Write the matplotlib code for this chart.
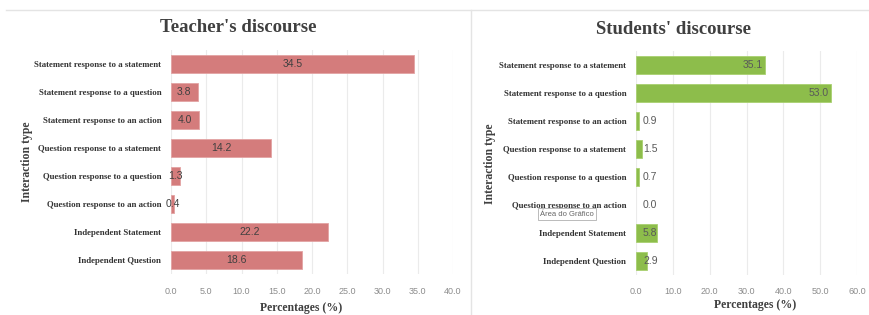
import matplotlib
matplotlib.use("Agg")
import matplotlib.pyplot as plt
from matplotlib.lines import Line2D
from matplotlib.ticker import FormatStrFormatter

CATEGORIES = [
    "Statement response to a statement",
    "Statement response to a question",
    "Statement response to an action",
    "Question response to a statement",
    "Question response to a question",
    "Question response to an action",
    "Independent Statement",
    "Independent Question",
]
TEACHER = [34.5, 3.8, 4.0, 14.2, 1.3, 0.4, 22.2, 18.6]
STUDENTS = [35.1, 53.0, 0.9, 1.5, 0.7, 0.0, 5.8, 2.9]
TEACHER_TICKS = [0, 5, 10, 15, 20, 25, 30, 35, 40]
STUDENT_TICKS = [0, 10, 20, 30, 40, 50, 60]

W, H = 869, 315
SERIF = "Liberation Serif"
SANS = "Liberation Sans"
TICK_GREY = "#8c8c8c"
LABEL_DARK = "#404040"


def px_rect(x0, y0, x1, y1):
    return [x0 / W, 1 - y1 / H, (x1 - x0) / W, (y1 - y0) / H]


def style_axes(ax, ticks):
    ax.set_xlim(ticks[0], ticks[-1])
    ax.set_ylim(len(CATEGORIES) - 0.5, -0.5)
    ax.set_xticks(ticks)
    ax.xaxis.set_major_formatter(FormatStrFormatter("%.1f"))
    ax.set_yticks(range(len(CATEGORIES)))
    ax.set_yticklabels(CATEGORIES, fontfamily=SERIF, fontweight="bold",
                       fontsize=6.3, color="#333333")
    ax.tick_params(axis="x", length=0, labelsize=6.5, labelcolor=TICK_GREY, pad=9)
    ax.tick_params(axis="y", length=0, pad=7)
    for lbl in ax.get_xticklabels():
        lbl.set_fontfamily(SANS)
    for s in ax.spines.values():
        s.set_visible(False)
    ax.grid(axis="x", color="#ebebeb", linewidth=0.8)
    ax.set_axisbelow(True)


def edge_widths(values):
    # no outline on zero-length bars
    return [0.6 if v > 0 else 0 for v in values]


fig = plt.figure(figsize=(W / 100, H / 100), dpi=100)

# left panel: teacher
ax1 = fig.add_axes(px_rect(171, 50, 453, 274))
ax1.barh(range(len(TEACHER)), TEACHER, height=0.62, color="#d47c7c",
         edgecolor="#e3a3a3", linewidth=edge_widths(TEACHER))
style_axes(ax1, TEACHER_TICKS)
for i, v in enumerate(TEACHER):
    ax1.text(v / 2, i, f"{v:.1f}", ha="center", va="center",
             fontfamily=SANS, fontsize=7.5, color=LABEL_DARK)

# right panel: students
ax2 = fig.add_axes(px_rect(636, 51, 857, 275))
ax2.barh(range(len(STUDENTS)), STUDENTS, height=0.62, color="#8dbd4b",
         edgecolor="#a9d070", linewidth=edge_widths(STUDENTS))
style_axes(ax2, STUDENT_TICKS)
for i, v in enumerate(STUDENTS):
    if v > 10:
        ax2.annotate(f"{v:.1f}", (v, i), xytext=(-2, 0), textcoords="offset points",
                     ha="right", va="center", fontfamily=SANS, fontsize=7.5,
                     color="#595959")
    else:
        ax2.annotate(f"{v:.1f}", (0, i), xytext=(5, 0), textcoords="offset points",
                     ha="left", va="center", fontfamily=SANS, fontsize=7.5,
                     color="#595959")

# titles and axis labels
fig.text(238 / W, 1 - 28 / H, "Teacher's discourse", ha="center", va="center",
         fontfamily=SERIF, fontweight="bold", fontsize=13.5, color="#404040")
fig.text(673 / W, 1 - 30 / H, "Students' discourse", ha="center", va="center",
         fontfamily=SERIF, fontweight="bold", fontsize=13.5, color="#404040")
fig.text(301 / W, 1 - 308 / H, "Percentages (%)", ha="center", va="center",
         fontfamily=SERIF, fontweight="bold", fontsize=8.5, color="#404040")
fig.text(755 / W, 1 - 305 / H, "Percentages (%)", ha="center", va="center",
         fontfamily=SERIF, fontweight="bold", fontsize=8.5, color="#404040")
fig.text(27 / W, 1 - 162 / H, "Interaction type", ha="center", va="center",
         rotation=90, fontfamily=SERIF, fontweight="bold", fontsize=8.5,
         color="#404040")
fig.text(490 / W, 1 - 164 / H, "Interaction type", ha="center", va="center",
         rotation=90, fontfamily=SERIF, fontweight="bold", fontsize=8.5,
         color="#404040")

# Excel hover tooltip left in the screenshot
fig.text(540 / W, 1 - 214 / H, "Área do Gráfico", ha="left", va="center",
         fontfamily=SANS, fontsize=5.5, color="#666666",
         bbox=dict(boxstyle="square,pad=0.3", facecolor="white",
                   edgecolor="#b0b0b0", linewidth=0.6))

# panel borders
fig.add_artist(Line2D([6 / W, 1], [1 - 10 / H, 1 - 10 / H], color="#e4e4e4",
                      linewidth=1.0, transform=fig.transFigure))
fig.add_artist(Line2D([471 / W, 471 / W], [0, 1 - 10 / H], color="#e4e4e4",
                      linewidth=1.0, transform=fig.transFigure))

fig.savefig("out.png", dpi=100)
